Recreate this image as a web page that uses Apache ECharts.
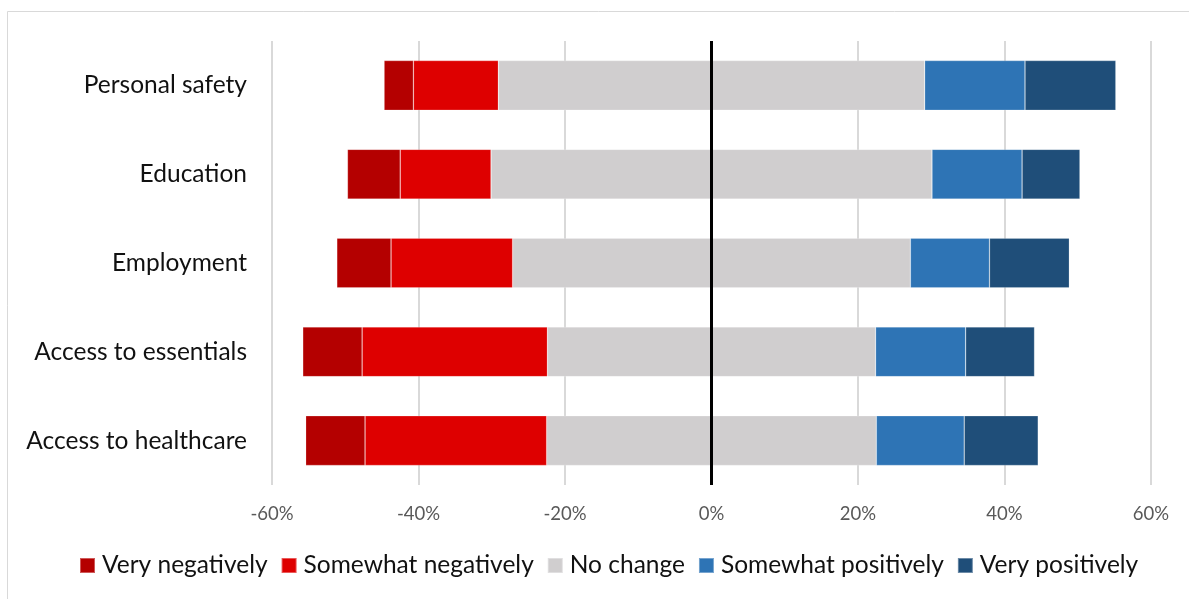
<!DOCTYPE html>
<html>
<head>
<meta charset="utf-8">
<script src="https://cdn.jsdelivr.net/npm/echarts@6/dist/echarts.min.js"></script>
<style>
  html, body { margin: 0; padding: 0; background: #fff; }
  #main { width: 1189px; height: 599px; }
</style>
</head>
<body>
<div id="main"></div>
<script>
// categories, top to bottom
var categories = ["Personal safety", "Education", "Employment", "Access to essentials", "Access to healthcare"];

// shares in %
var veryNeg = [4.0, 7.2, 7.4, 8.1, 8.1];
var somewhatNeg = [11.6, 12.4, 16.6, 25.3, 24.8];
var noChange = [58.2, 60.2, 54.3, 44.8, 45.0];
var somewhatPos = [13.7, 12.3, 10.8, 12.3, 12.0];
var veryPos = [12.4, 7.9, 10.9, 9.4, 10.1];

var xTicks = [-60, -40, -20, 0, 20, 40, 60];

var colors = {
  vn: "#b40000",
  sn: "#de0000",
  nc: "#d0cecf",
  sp: "#2e74b5",
  vp: "#1f4e79"
};

var font = "Lato, 'Open Sans', sans-serif";

function neg(arr) { return arr.map(function (v) { return -v; }); }
function half(arr) { return arr.map(function (v) { return v / 2; }); }

function bar(name, data, color, extra) {
  var s = {
    name: name,
    type: "bar",
    stack: "all",
    data: data,
    barCategoryGap: "44%",
    itemStyle: { color: color, borderColor: "rgba(255,255,255,0.35)", borderWidth: 0.6 },
    emphasis: { disabled: true }
  };
  if (extra) { for (var k in extra) s[k] = extra[k]; }
  return s;
}

var chart = echarts.init(document.getElementById("main"));
chart.setOption({
  animation: false,
  backgroundColor: "#fff",
  graphic: [{
    type: "rect",
    shape: { x: 7.5, y: 11.5, width: 1200, height: 600 },
    style: { fill: "none", stroke: "#d9d9d9", lineWidth: 1 },
    silent: true
  }],
  grid: { left: 272, right: 38, top: 41, bottom: 114, containLabel: false },
  legend: {
    bottom: 16,
    left: 74,
    itemWidth: 15,
    itemHeight: 15,
    itemGap: 13,
    icon: "rect",
    textStyle: { fontFamily: font, fontSize: 24.5, color: "#111", padding: [0, 0, 0, 2] },
    data: ["Very negatively", "Somewhat negatively", "No change", "Somewhat positively", "Very positively"]
  },
  xAxis: {
    type: "value",
    min: xTicks[0],
    max: xTicks[xTicks.length - 1],
    interval: 20,
    axisLine: { show: false },
    axisTick: { show: false },
    splitLine: { lineStyle: { color: "#d9d9d9", width: 2 } },
    axisLabel: {
      formatter: function (v) { return v + "%"; },
      fontFamily: font,
      fontSize: 18.5,
      color: "#595959",
      margin: 20
    }
  },
  yAxis: {
    type: "category",
    data: categories,
    inverse: true,
    axisLine: { show: false },
    axisTick: { show: false },
    axisLabel: { fontFamily: font, fontSize: 24.5, color: "#111", margin: 25 }
  },
  series: [
    bar("No change", neg(half(noChange)), colors.nc, {
      markLine: {
        silent: true,
        symbol: "none",
        label: { show: false },
        lineStyle: { color: "#000", width: 3, type: "solid" },
        data: [{ xAxis: 0 }]
      }
    }),
    bar("Somewhat negatively", neg(somewhatNeg), colors.sn),
    bar("Very negatively", neg(veryNeg), colors.vn),
    bar("No change", half(noChange), colors.nc),
    bar("Somewhat positively", somewhatPos, colors.sp),
    bar("Very positively", veryPos, colors.vp)
  ]
});
</script>
</body>
</html>
